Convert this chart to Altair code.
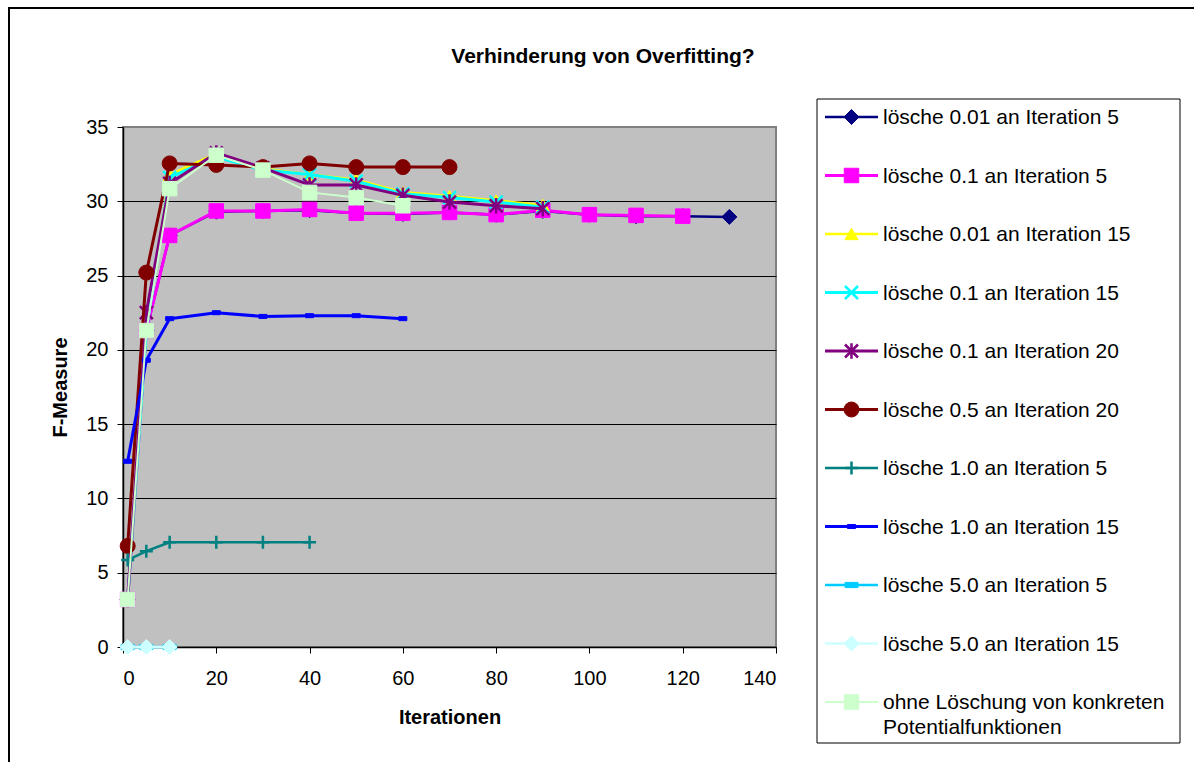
import altair as alt
import pandas as pd

FONT = "Liberation Sans"

# ---------------- data ----------------
ITERATIONS = [1, 5, 10, 20, 30, 40, 50, 60, 70, 80, 90, 100, 110, 120, 130]

labels = [
    "lösche 0.01 an Iteration 5",
    "lösche 0.1 an Iteration 5",
    "lösche 0.01 an Iteration 15",
    "lösche 0.1 an Iteration 15",
    "lösche 0.1 an Iteration 20",
    "lösche 0.5 an Iteration 20",
    "lösche 1.0 an Iteration 5",
    "lösche 1.0 an Iteration 15",
    "lösche 5.0 an Iteration 5",
    "lösche 5.0 an Iteration 15",
    "ohne Löschung von konkreten\nPotentialfunktionen",
]

v_001_it5 = [3.2, 21.3, 27.7, 29.3, 29.35, 29.4, 29.2, 29.15, 29.25, 29.1, 29.35, 29.1, 29.0, 29.0, 28.95]
v_01_it5 = [3.2, 21.3, 27.7, 29.35, 29.35, 29.45, 29.2, 29.2, 29.25, 29.1, 29.4, 29.1, 29.05, 29.0]
v_001_it15 = [3.2, 21.3, 31.8, 33.2, 32.2, 31.8, 31.45, 30.6, 30.35, 30.05, 29.75]
v_01_it15 = [3.2, 21.3, 31.6, 33.0, 32.1, 31.8, 31.35, 30.5, 30.25, 29.95, 29.6]
v_01_it20 = [3.2, 22.5, 31.2, 33.25, 32.25, 31.1, 31.1, 30.4, 29.95, 29.7, 29.5]
v_05_it20 = [6.8, 25.2, 32.55, 32.45, 32.3, 32.55, 32.3, 32.3, 32.3]
v_1_it5 = [5.85, 6.45, 7.05, 7.05, 7.05, 7.05]
v_1_it15 = [12.5, 19.3, 22.1, 22.5, 22.25, 22.3, 22.3, 22.1]
v_5_it5 = [0.0, 0.0, 0.0]
v_5_it15 = [0.0, 0.0, 0.0]
v_ohne = [3.2, 21.3, 30.85, 33.1, 32.1, 30.6, 30.25, 29.7]

series_values = [v_001_it5, v_01_it5, v_001_it15, v_01_it15, v_01_it20, v_05_it20,
                 v_1_it5, v_1_it15, v_5_it5, v_5_it15, v_ohne]

X_TICKS = [0, 20, 40, 60, 80, 100, 120, 140]
Y_TICKS = [0, 5, 10, 15, 20, 25, 30, 35]

# ---------------- styles ----------------
colors = ["#000080", "#FF00FF", "#FFFF00", "#00FFFF", "#800080", "#800000",
          "#008080", "#0000FF", "#00CCFF", "#CCFFFF", "#CCFFCC"]
SHAPE_X = "M-1,-1L1,1M-1,1L1,-1"
SHAPE_STAR = "M-1,-1L1,1M-1,1L1,-1M0,-1.2L0,1.2"
SHAPE_PLUS = "M-1,0L1,0M0,-1L0,1"
SHAPE_DASH = "M-1,-0.5H1V0.5H-1Z"
SHAPE_DASH2 = "M-1,-0.4H1V0.4H-1Z"
shapes = ["diamond", "square", "triangle-up", SHAPE_X, SHAPE_STAR, "circle",
          SHAPE_PLUS, SHAPE_DASH, SHAPE_DASH2, "diamond", "square"]
sizes = [225, 210, 170, 169, 169, 225, 169, 64, 169, 225, 210]
mstroke = [1, 1, 1, 2.5, 2.5, 1, 2.5, 1, 1, 1, 1]
lwidth = [2.5, 3, 2.5, 3, 3, 3, 2.5, 3, 2.5, 2.5, 2]

# ---------------- main plot ----------------
W, H = 653, 520

x_scale = alt.Scale(domain=[0, 140], nice=False, zero=False)
y_scale = alt.Scale(domain=[0, 35], nice=False, zero=False)

x_axis = alt.Axis(values=X_TICKS, grid=False, title="Iterationen",
                  labelFont=FONT, labelFontSize=20, labelColor="black", labelPadding=15,
                  tickSize=6, tickColor="black", tickWidth=1,
                  domainColor="black", domainWidth=1.5,
                  titleFont=FONT, titleFontSize=20, titleFontWeight="bold",
                  titleColor="black", titlePadding=19)
y_axis = alt.Axis(values=Y_TICKS, grid=True,
                  gridColor={"condition": {"test": "datum.value >= 35", "value": "#808080"},
                             "value": "black"},
                  gridWidth=1, title="F-Measure",
                  labelFont=FONT, labelFontSize=20, labelColor="black", labelPadding=9,
                  tickSize=6, tickColor="black", tickWidth=1,
                  domainColor="black", domainWidth=1.5,
                  titleFont=FONT, titleFontSize=20, titleFontWeight="bold",
                  titleColor="black", titlePadding=15)

main_layers = []
for i, vals in enumerate(series_values):
    df = pd.DataFrame({"Iteration": ITERATIONS[:len(vals)], "F": vals})
    base = alt.Chart(df)
    enc = dict(
        x=alt.X("Iteration:Q", scale=x_scale, axis=x_axis),
        y=alt.Y("F:Q", scale=y_scale, axis=y_axis),
    )
    line = base.mark_line(color=colors[i], strokeWidth=lwidth[i],
                          strokeJoin="round", clip=False).encode(**enc)
    pts = base.mark_point(shape=shapes[i], size=sizes[i], filled=True,
                          fill=colors[i], stroke=colors[i], strokeWidth=mstroke[i],
                          opacity=1, clip=False).encode(**enc)
    main_layers += [line, pts]

main = alt.layer(*main_layers)

# ---------------- legend (own scales) ----------------
LX = alt.Scale(domain=[0, 1], range=[702, 755], nice=False, zero=False)
LY = alt.Scale(domain=[0, 10], range=[-10, 575], nice=False, zero=False)

legend_layers = []
for i, lab in enumerate(labels):
    ldf = pd.DataFrame({"row": [i], "a": [0.0], "b": [1.0], "m": [0.5], "label": [lab]})
    lb = alt.Chart(ldf)
    ly = alt.Y("row:Q", scale=LY, axis=None)
    seg = lb.mark_rule(color=colors[i], strokeWidth=lwidth[i]).encode(
        x=alt.X("a:Q", scale=LX, axis=None), x2="b:Q", y=ly)
    sym = lb.mark_point(shape=shapes[i], size=sizes[i], filled=True,
                        fill=colors[i], stroke=colors[i], strokeWidth=mstroke[i],
                        opacity=1).encode(x=alt.X("m:Q", scale=LX, axis=None), y=ly)
    txt = lb.mark_text(align="left", baseline="middle", dx=5, dy=1, font=FONT, fontSize=21,
                       color="black", lineBreak="\n", lineHeight=25).encode(
        x=alt.X("b:Q", scale=LX, axis=None), y=ly, text="label:N")
    legend_layers += [seg, sym, txt]

legend = alt.layer(*legend_layers)

# ---------------- decorations ----------------
one = pd.DataFrame({"k": [0]})
frame_top = alt.Chart(one).mark_rule(stroke="black", strokeWidth=2).encode(
    x=alt.value(-115), x2=alt.value(1100), y=alt.value(-119))
frame_left = alt.Chart(one).mark_rule(stroke="black", strokeWidth=2).encode(
    x=alt.value(-114), y=alt.value(-120), y2=alt.value(700))
legend_box = alt.Chart(one).mark_rect(fill="white", stroke="black", strokeWidth=1).encode(
    x=alt.value(694), x2=alt.value(1057), y=alt.value(-28), y2=alt.value(616))
title = alt.Chart(one).mark_text(font=FONT, fontSize=21, fontWeight="bold", color="black",
                                 align="center", baseline="middle").encode(
    x=alt.value(480), y=alt.value(-70), text=alt.value("Verhinderung von Overfitting?"))

chart = alt.layer(frame_top, frame_left, legend_box, title, main, legend).resolve_scale(
    x="independent", y="independent"
).properties(
    width=W, height=H,
    autosize=alt.AutoSizeParams(type="none"),
    padding={"left": 123, "top": 127, "right": 1194 - 123 - W, "bottom": 762 - 127 - H},
    background="white",
).configure_view(
    fill="#C0C0C0", stroke="#808080", strokeWidth=2
)

chart.save("out.html", embed_options={"renderer": "svg", "actions": False})
